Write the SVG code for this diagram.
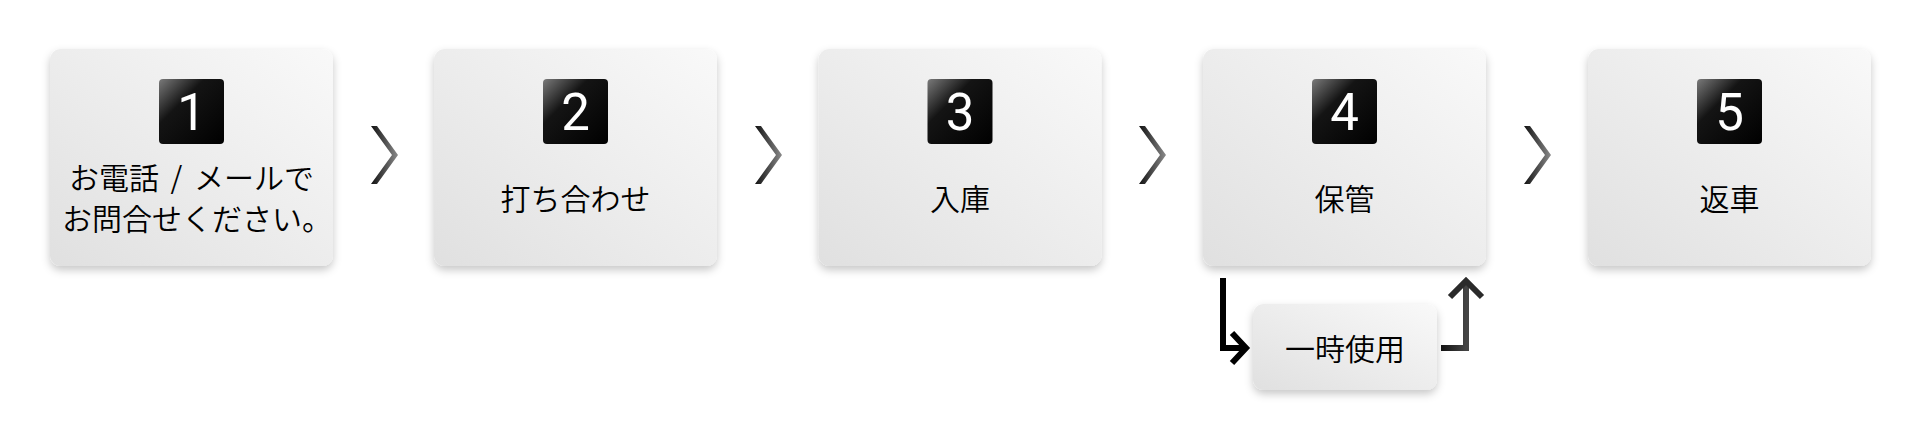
<svg xmlns="http://www.w3.org/2000/svg" width="1920" height="440" viewBox="0 0 1920 440">
<defs>
<linearGradient id="boxg" x1="0" y1="1" x2="1" y2="0">
<stop offset="0" stop-color="#e0e0e0"/>
<stop offset="1" stop-color="#f9f9f9"/>
</linearGradient>
<linearGradient id="badgeg" x1="0" y1="0" x2="1" y2="1">
<stop offset="0" stop-color="#7a7a7a"/>
<stop offset="0.35" stop-color="#141414"/>
<stop offset="1" stop-color="#000"/>
</linearGradient>
<linearGradient id="chevg" x1="0" y1="0" x2="1" y2="0">
<stop offset="0" stop-color="#111"/>
<stop offset="1" stop-color="#8a8a8a"/>
</linearGradient>
<linearGradient id="upg" x1="0" y1="0" x2="1" y2="0">
<stop offset="0" stop-color="#111"/>
<stop offset="1" stop-color="#444"/>
</linearGradient>
<filter id="sh" x="-10%" y="-10%" width="120%" height="130%">
<feDropShadow dx="0" dy="4" stdDeviation="4" flood-color="#000" flood-opacity="0.22"/>
</filter>
<polygon id="chev" points="0,0 6,0 27,29 6,58 0,58 21,29" fill="url(#chevg)"/>
</defs>
<style>
.box{fill:url(#boxg);filter:url(#sh)}
.badge{fill:url(#badgeg)}
.num{font-family:Roboto,"Liberation Sans",Arial,sans-serif;font-weight:400;font-size:51px;fill:#fff;text-anchor:middle}
.lbl{font-family:"Noto Sans CJK JP","Noto Sans CJK SC",sans-serif;font-weight:350;font-size:30px;fill:#000;text-anchor:middle}
.ln{fill:none;stroke-width:6;stroke-linecap:butt;stroke-linejoin:miter}
</style>
<rect width="1920" height="440" fill="#fff"/>
<g id="node1">
<rect class="box" x="50" y="49" width="283" height="217" rx="11"/>
<rect class="badge" x="159" y="79" width="65" height="65" rx="4"/>
<text class="num" x="191.5" y="130">1</text>
<text class="lbl" x="191.5" y="189" word-spacing="5">お電話 / メールで</text>
<text class="lbl" x="197" y="230">お問合せください。</text>
</g>
<g id="node2">
<rect class="box" x="434" y="49" width="283" height="217" rx="11"/>
<rect class="badge" x="543" y="79" width="65" height="65" rx="4"/>
<text class="num" x="575.5" y="130">2</text>
<text class="lbl" x="575.5" y="210">打ち合わせ</text>
</g>
<g id="node3">
<rect class="box" x="818.5" y="49" width="283" height="217" rx="11"/>
<rect class="badge" x="927.5" y="79" width="65" height="65" rx="4"/>
<text class="num" x="960" y="130">3</text>
<text class="lbl" x="960" y="210">入庫</text>
</g>
<g id="node4">
<rect class="box" x="1203" y="49" width="283" height="217" rx="11"/>
<rect class="badge" x="1312" y="79" width="65" height="65" rx="4"/>
<text class="num" x="1344.5" y="130">4</text>
<text class="lbl" x="1344.5" y="210">保管</text>
</g>
<g id="node5">
<rect class="box" x="1588" y="49" width="283" height="217" rx="11"/>
<rect class="badge" x="1697" y="79" width="65" height="65" rx="4"/>
<text class="num" x="1729.5" y="130">5</text>
<text class="lbl" x="1729.5" y="210">返車</text>
</g>
<g id="node6">
<rect class="box" x="1253" y="304" width="184" height="86" rx="11"/>
<text class="lbl" x="1345" y="360">一時使用</text>
</g>
<g id="connectors">
<use href="#chev" x="371" y="126"/>
<use href="#chev" x="755" y="126"/>
<use href="#chev" x="1139" y="126"/>
<use href="#chev" x="1524" y="126"/>
<path class="ln" stroke="#000" d="M1223 278 V348 H1245"/>
<path class="ln" stroke="#000" d="M1232 333 L1246 348 L1232 363"/>
<path class="ln" stroke="url(#upg)" d="M1441 348 H1466 V281"/>
<path class="ln" stroke="#2a2a2a" d="M1450 297 L1466 281 L1482 297"/>
</g>
</svg>
